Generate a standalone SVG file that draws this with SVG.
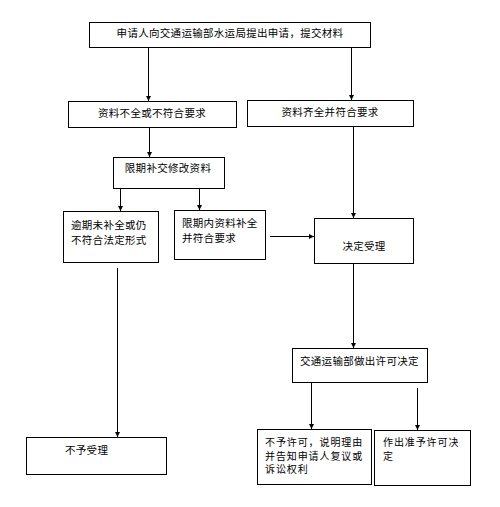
<svg xmlns="http://www.w3.org/2000/svg" width="500" height="507" viewBox="0 0 500 507">
<defs>
<marker id="ah" viewBox="0 0 6 6" refX="6" refY="3" markerWidth="5" markerHeight="5" orient="auto" markerUnits="userSpaceOnUse">
<path d="M0,0 L6,3 L0,6 z" fill="#000"/>
</marker>
<style>
rect{fill:#fff;stroke:#000;stroke-width:1}
text{font-family:"Noto Sans CJK SC","Liberation Sans",sans-serif;font-size:10.5px;fill:#000;letter-spacing:0.3px}
.s{font-size:10px;letter-spacing:0.9px}
.c line{stroke:#000;stroke-width:1;marker-end:url(#ah)}
</style>
</defs>
<rect x="0" y="0" width="500" height="507" style="stroke:none"/>
<g id="n1"><rect x="89.5" y="22.5" width="281" height="25"/><text x="230" y="37" text-anchor="middle">申请人向交通运输部水运局提出申请，提交材料</text></g>
<g id="n2"><rect x="68.5" y="101.5" width="168" height="26"/><text x="152" y="117" text-anchor="middle">资料不全或不符合要求</text></g>
<g id="n3"><rect x="247.5" y="100.5" width="166" height="26"/><text x="330" y="116" text-anchor="middle">资料齐全并符合要求</text></g>
<g id="n4"><rect x="113.5" y="157.5" width="111" height="31"/><text x="168" y="172" text-anchor="middle">限期补交修改资料</text></g>
<g id="n5"><rect x="63.5" y="211.5" width="95" height="51"/><text x="71" y="229">逾期未补全或仍</text><text x="71" y="244">不符合法定形式</text></g>
<g id="n6"><rect x="174.5" y="210.5" width="91" height="49"/><text x="182" y="227">限期内资料补全</text><text x="182" y="242">并符合要求</text></g>
<g id="n7"><rect x="314.5" y="218.5" width="99" height="45"/><text x="364" y="250" text-anchor="middle">决定受理</text></g>
<g id="n8"><rect x="292.5" y="348.5" width="135" height="34"/><text x="300" y="365">交通运输部做出许可决定</text></g>
<g id="n9"><rect x="257.5" y="429.5" width="114" height="55"/><text class="s" x="265" y="446">不予许可，说明理由</text><text class="s" x="265" y="459.5">并告知申请人复议或</text><text class="s" x="265" y="473">诉讼权利</text></g>
<g id="n10"><rect x="374.5" y="430.5" width="96" height="55"/><text class="s" x="383" y="446">作出准予许可决</text><text class="s" x="383" y="459.5">定</text></g>
<g id="n11"><rect x="26.5" y="437.5" width="140" height="37"/><text x="65" y="454">不予受理</text></g>
<g class="c" id="connectors">
<line x1="148.5" y1="48" x2="148.5" y2="101"/>
<line x1="351.5" y1="48" x2="351.5" y2="100"/>
<line x1="149.5" y1="128" x2="149.5" y2="157"/>
<line x1="120.5" y1="189" x2="120.5" y2="211"/>
<line x1="199.5" y1="189" x2="199.5" y2="210"/>
<line x1="353.5" y1="127" x2="353.5" y2="218"/>
<line x1="270" y1="236.5" x2="314" y2="236.5"/>
<line x1="353.5" y1="264" x2="353.5" y2="348"/>
<line x1="117.5" y1="268" x2="117.5" y2="437"/>
<line x1="311.5" y1="383" x2="311.5" y2="429"/>
<line x1="417.5" y1="388" x2="417.5" y2="430"/>
</g>
</svg>
